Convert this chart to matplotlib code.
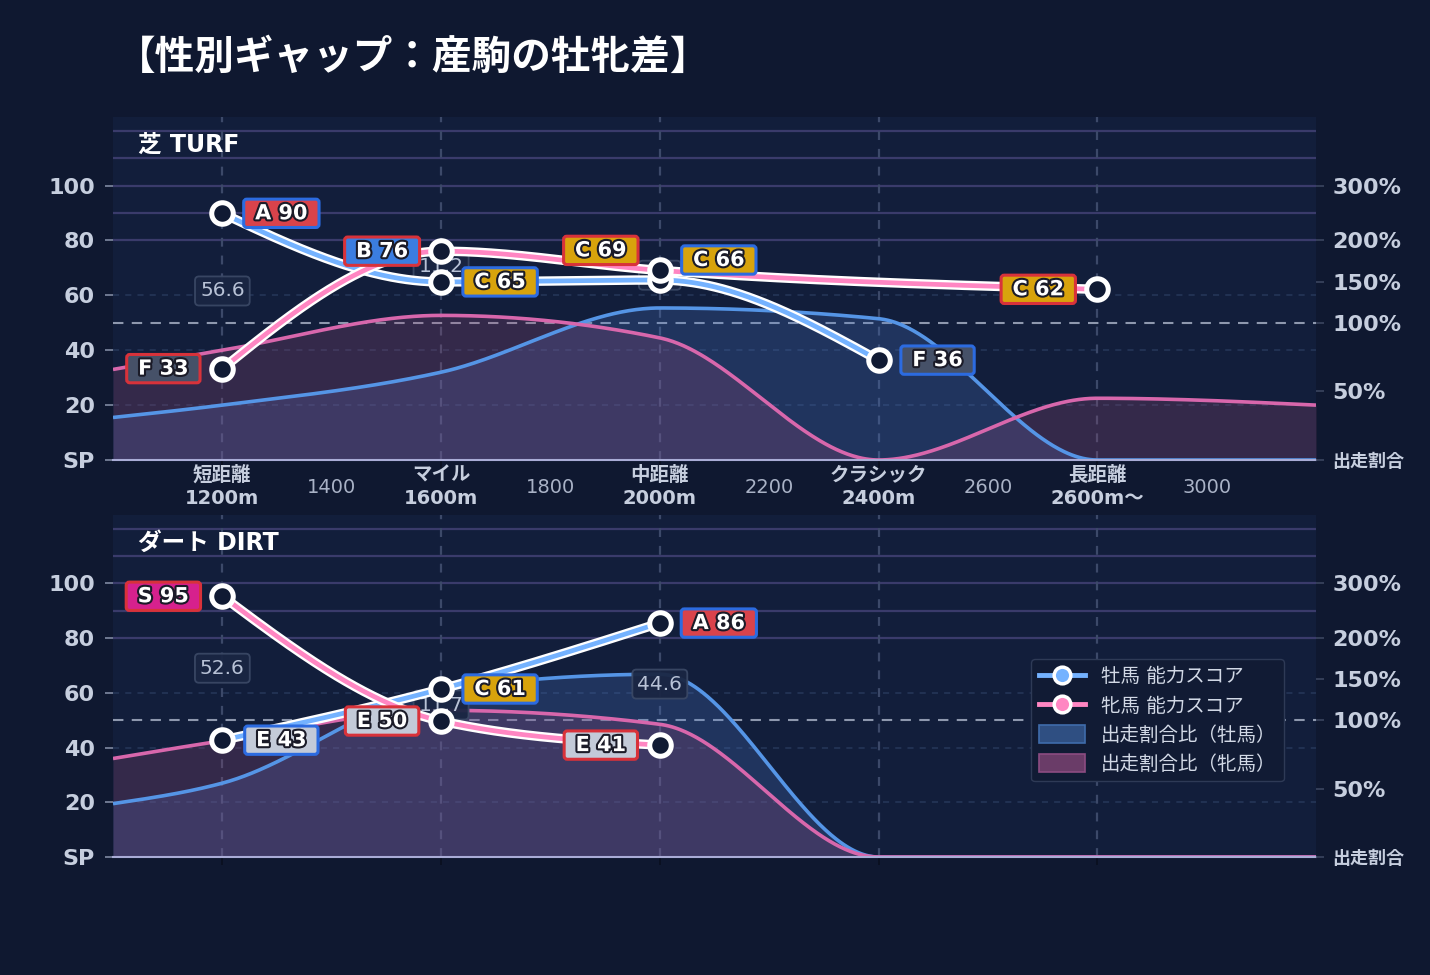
import matplotlib
matplotlib.use("Agg")
import matplotlib.pyplot as plt  # noqa: E402
import matplotlib.patheffects as pe  # noqa: E402
from matplotlib.lines import Line2D  # noqa: E402
from matplotlib.patches import Patch  # noqa: E402
import numpy as np  # noqa: E402

plt.rcParams["font.family"] = ["DejaVu Sans", "Noto Sans CJK JP"]

TITLE = "【性別ギャップ：産駒の牡牝差】"
DIST = [1200, 1600, 2000, 2400, 2800]
DIST_LABELS = ["短距離\n1200m", "マイル\n1600m", "中距離\n2000m", "クラシック\n2400m", "長距離\n2600m〜"]
MINOR_DIST = [1400, 1800, 2200, 2600, 3000]

# 能力スコア（None = 出走なし）
TURF_MALE = [89.9, 64.9, 65.6, 36.4, None]
TURF_FEMALE = [33.3, 76.1, 69.1, None, 62.2]
DIRT_MALE = [42.7, 61.4, 85.5, None, None]
DIRT_FEMALE = [95.3, 49.7, 40.9, None, None]

# 出走割合比 (%)，グラフ両端を含む
SHARE_X = [1000, 1200, 1600, 2000, 2400, 2800, 3200]
TURF_SHARE_MALE = [31, 40, 64, 118, 105, 0, 0]
TURF_SHARE_FEMALE = [66, 80, 109, 89, 0, 45, 40]
DIRT_SHARE_MALE = [39, 54, 137, 156, 0, 0, 0]
DIRT_SHARE_FEMALE = [72, 85, 112, 97, 0, 0, 0]

# 割合 → スコア軸 への対応
RATIO_PCT = [0, 50, 100, 150, 200, 300]
RATIO_POS = [0, 25, 50, 65, 80, 100]
RATIO_LABELS = ["出走割合", "50%", "100%", "150%", "200%", "300%"]

GRADE_COLORS = {"S": "#d6218d", "A": "#d9434b", "B": "#3b7de0", "C": "#d8a30c",
                "D": "#6f9e3a", "E": "#c3cad8", "F": "#465168"}
BG = "#0f1830"
FACE = "#121e3b"
TXT = "#c6cede"
MALE = dict(line="#74b2ff", area="#5595e6", fill="#4a78c8", border="#2c6be0")
FEMALE = dict(line="#ff86c2", area="#d867ac", fill="#9a4a77", border="#d8323a")


def grade(v):
    for g, lo in (("S", 90), ("A", 80), ("B", 70), ("C", 60), ("D", 50), ("E", 40)):
        if v >= lo:
            return g
    return "F"


def monotone(xs, ys, n=120):
    """d3.curveMonotoneX 相当"""
    x = np.asarray(xs, float)
    y = np.asarray(ys, float)
    h = np.diff(x)
    s = np.diff(y) / h
    t = np.zeros(len(x))
    for i in range(1, len(x) - 1):
        p = (s[i - 1] * h[i] + s[i] * h[i - 1]) / (h[i - 1] + h[i])
        sg = (1 if s[i - 1] >= 0 else -1) + (1 if s[i] >= 0 else -1)
        t[i] = sg * min(abs(s[i - 1]), abs(s[i]), 0.5 * abs(p))
    if len(x) > 2:
        t[0] = (3 * s[0] - t[1]) / 2
        t[-1] = (3 * s[-1] - t[-2]) / 2
    else:
        t[:] = s[0]
    ox, oy = [], []
    for i in range(len(h)):
        u = np.linspace(0, 1, n)
        h00 = 2 * u**3 - 3 * u**2 + 1
        h10 = u**3 - 2 * u**2 + u
        h01 = -2 * u**3 + 3 * u**2
        h11 = u**3 - u**2
        ox.append(x[i] + u * h[i])
        oy.append(h00 * y[i] + h10 * h[i] * t[i] + h01 * y[i + 1] + h11 * h[i] * t[i + 1])
    return np.concatenate(ox), np.concatenate(oy)


def style_axes(ax, show_x):
    ax.set_facecolor(FACE)
    ax.set_xlim(1000, 3200)
    ax.set_ylim(0, 125)
    for sp in ("top", "left", "right"):
        ax.spines[sp].set_visible(False)
    ax.spines["bottom"].set_color("#a9acd6")
    ax.spines["bottom"].set_linewidth(1.5)
    ax.spines["bottom"].set_zorder(8)
    for v in (80, 90, 100, 110, 120):
        ax.axhline(v, color="#3a3b6b", lw=1.6, zorder=1)
    for v in (20, 40, 60):
        ax.axhline(v, color="#26375a", lw=1.1, ls=(0, (4, 4)), zorder=1)
    ax.axhline(50, color="#8e98ae", lw=1.5, ls=(0, (5, 4)), zorder=1)
    for d in DIST:
        ax.axvline(d, color="#3c4969", lw=1.6, ls=(0, (4, 4)), zorder=1)
    ax.set_yticks([0, 20, 40, 60, 80, 100], ["SP", "20", "40", "60", "80", "100"])
    ax.tick_params(axis="y", colors="#7f8aa2", length=6, width=1.2, pad=7,
                   labelcolor=TXT, labelsize=16)
    for lb in ax.get_yticklabels():
        lb.set_fontweight("bold")
    ax.set_xticks(DIST)
    ax.tick_params(axis="x", which="major", colors="#0a0f1e", length=6, width=1.2, pad=-2,
                   labelcolor=TXT, labelsize=14)
    if show_x:
        ax.set_xticklabels(DIST_LABELS, fontweight="bold", linespacing=1.3)
        ax.set_xticks(MINOR_DIST, [str(d) for d in MINOR_DIST], minor=True)
        ax.tick_params(axis="x", which="minor", length=0, pad=13, labelcolor="#a9b2c6", labelsize=14)
    else:
        ax.set_xticklabels([])

    rx = ax.twinx()
    rx.set_ylim(0, 125)
    for sp in rx.spines.values():
        sp.set_visible(False)
    rx.set_yticks(RATIO_POS, RATIO_LABELS)
    rx.tick_params(axis="y", colors="#3b4560", length=6, width=1.2, pad=6, labelcolor=TXT, labelsize=16)
    for lb in rx.get_yticklabels():
        lb.set_fontweight("bold")
        if lb.get_text() == "出走割合":
            lb.set_fontsize(13)


def draw_panel(ax, title, male, female, share_m, share_f, show_x):
    style_axes(ax, show_x)
    ax.text(0.021, 0.918, title, transform=ax.transAxes, ha="left", va="center",
            fontsize=17, fontweight="bold", color="white", zorder=9)

    curves = []
    for share, c in ((share_m, MALE), (share_f, FEMALE)):
        pos = np.interp(share, RATIO_PCT, RATIO_POS)
        xx, yy = monotone(SHARE_X, pos)
        yy = np.clip(yy, 0, None)
        ax.fill_between(xx, 0, yy, color=c["fill"], alpha=0.25, lw=0, zorder=2)
        curves.append((xx, yy, c))
    for xx, yy, c in curves:
        ax.plot(xx, yy, color=c["area"], lw=2.6, zorder=3, solid_capstyle="butt")

    # 牡牝差ボックス
    for d, m, f in zip(DIST, male, female):
        if m is None or f is None:
            continue
        ax.text(d, (m + f) / 2, f"{abs(m - f):.1f}", ha="center", va="center",
                fontsize=14.5, color="#b8c2d6", zorder=4,
                bbox=dict(boxstyle="round,pad=0.25,rounding_size=0.2", fc="#1a2643",
                          ec="#3a4865", lw=1.3, alpha=0.95))

    for vals, c, side in ((male, MALE, 1), (female, FEMALE, -1)):
        xs = [d for d, v in zip(DIST, vals) if v is not None]
        ys = [v for v in vals if v is not None]
        xx, yy = monotone(xs, ys)
        ax.plot(xx, yy, color=c["line"], lw=3.4, zorder=5,
                path_effects=[pe.Stroke(linewidth=6.8, foreground="white"), pe.Normal()])
        ax.plot(xs, ys, "o", ms=15.5, mfc="#101a33", mec="white", mew=3.6, zorder=6)
        for d, v in zip(xs, ys):
            i = DIST.index(d)
            other = (female if side == 1 else male)[i]
            dy = 20 if other is not None and abs(other - v) < 6 else 0
            g = grade(v)
            ax.annotate(f" {g} {round(v)} ", xy=(d, v), xytext=(side * 59, dy),
                        textcoords="offset pixels", ha="center", va="center",
                        fontsize=15, fontweight="bold", color="white", zorder=7,
                        path_effects=[pe.withStroke(linewidth=3, foreground="#1b1b28")],
                        bbox=dict(boxstyle="round,pad=0.2,rounding_size=0.15",
                                  fc=GRADE_COLORS[g], ec=c["border"], lw=2.2))


fig = plt.figure(figsize=(14.3, 9.75), dpi=100, facecolor=BG)
ax_t = fig.add_axes([113 / 1430, 1 - 460 / 975, 1203 / 1430, 343 / 975])
ax_d = fig.add_axes([113 / 1430, 1 - 857 / 975, 1203 / 1430, 342 / 975])

draw_panel(ax_t, "芝 TURF", TURF_MALE, TURF_FEMALE, TURF_SHARE_MALE, TURF_SHARE_FEMALE, True)
draw_panel(ax_d, "ダート DIRT", DIRT_MALE, DIRT_FEMALE, DIRT_SHARE_MALE, DIRT_SHARE_FEMALE, False)

fig.text(116 / 1430, 1 - 58 / 975, TITLE, ha="left", va="center", fontsize=28.5,
         fontweight="bold", color="white")

handles = [
    Line2D([], [], color=MALE["line"], lw=3.5, marker="o", ms=12, mfc=MALE["line"], mec="white", mew=2.5),
    Line2D([], [], color=FEMALE["line"], lw=3.5, marker="o", ms=12, mfc=FEMALE["line"], mec="white", mew=2.5),
    Patch(fc="#2f4f82", ec="#3f6cab", lw=1.2),
    Patch(fc="#6a3c68", ec="#8c4c82", lw=1.2),
]
labels = ["牡馬 能力スコア", "牝馬 能力スコア", "出走割合比（牡馬）", "出走割合比（牝馬）"]
leg = ax_d.legend(handles, labels, loc="upper left", bbox_to_anchor=(0.763, 0.578),
                  borderaxespad=0, fontsize=14, labelcolor="#d2d9e6", frameon=True,
                  facecolor="#111b34", edgecolor="#2e3a56", framealpha=1,
                  handlelength=2.4, handleheight=1.0, labelspacing=0.5, borderpad=0.4,
                  handletextpad=0.8)
leg.set_zorder(10)

fig.savefig("out.png", dpi=100, facecolor=BG)
